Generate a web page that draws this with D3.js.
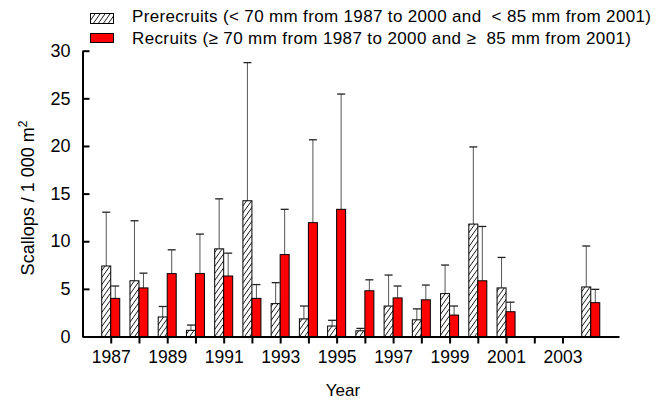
<!DOCTYPE html>
<html>
<head>
<meta charset="utf-8">
<script src="https://cdn.jsdelivr.net/npm/d3@7"></script>
<style>
  body { margin: 0; background: #fff; }
  text { font-family: "Liberation Sans", Arial, sans-serif; fill: #000; }
</style>
</head>
<body>
<script>
// data
var years = [1987, 1988, 1989, 1990, 1991, 1992, 1993, 1994, 1995, 1996, 1997, 1998, 1999, 2000, 2001, 2004];
var prerecruits = [7.4, 5.85, 2.05, 0.65, 9.2, 14.25, 3.45, 1.85, 1.1, 0.6, 3.2, 1.75, 4.5, 11.8, 5.1, 5.2];
var prerecruitsErr = [13.05, 12.15, 3.15, 1.2, 14.45, 28.75, 5.65, 3.2, 1.7, 0.85, 6.45, 2.9, 7.5, 19.9, 8.3, 9.5];
var recruits = [4.0, 5.1, 6.6, 6.6, 6.35, 4.0, 8.6, 11.95, 13.35, 4.8, 4.05, 3.85, 2.25, 5.85, 2.6, 3.55];
var recruitsErr = [5.3, 6.65, 9.1, 10.75, 8.75, 5.45, 13.35, 20.65, 25.45, 5.95, 5.3, 5.4, 3.2, 11.55, 3.6, 4.95];
var tickYears = d3.range(1987, 2004);
var labelYears = [1987, 1989, 1991, 1993, 1995, 1997, 1999, 2001, 2003];
var yTicks = [0, 5, 10, 15, 20, 25, 30];

var width = 656, height = 402;
var barW = 9;

var svg = d3.select("body").append("svg")
    .attr("width", width)
    .attr("height", height);

// hatch pattern for prerecruits
var pat = svg.append("defs").append("pattern")
    .attr("id", "hatch")
    .attr("patternUnits", "userSpaceOnUse")
    .attr("width", 5)
    .attr("height", 7);
pat.append("rect").attr("width", 5).attr("height", 7).attr("fill", "#fff");
pat.append("path")
    .attr("d", "M-1,8.4 L6,-1.4 M-6,8.4 L1,-1.4 M4,8.4 L11,-1.4")
    .attr("stroke", "#000")
    .attr("stroke-width", 0.9);

var x = d3.scaleLinear().domain([1986, 2005]).range([82.5, 619]);
var y = d3.scaleLinear().domain([0, 30]).range([336.5, 50.7]);

var rows = years.map(function(yr, i) {
    return { year: yr, pre: prerecruits[i], preErr: prerecruitsErr[i], rec: recruits[i], recErr: recruitsErr[i] };
});

// error bars (drawn first, bars cover the lower part)
function errBars(key, errKey, offset) {
    var g = svg.append("g");
    g.selectAll("line.stem")
        .data(rows)
        .enter()
        .append("line")
        .attr("x1", function(d) { return x(d.year) + offset; })
        .attr("x2", function(d) { return x(d.year) + offset; })
        .attr("y1", function(d) { return y(d[key]); })
        .attr("y2", function(d) { return y(d[errKey]); })
        .attr("stroke", "#555")
        .attr("stroke-width", 1);
    g.selectAll("line.cap")
        .data(rows)
        .enter()
        .append("line")
        .attr("x1", function(d) { return x(d.year) + offset - 4; })
        .attr("x2", function(d) { return x(d.year) + offset + 4; })
        .attr("y1", function(d) { return y(d[errKey]); })
        .attr("y2", function(d) { return y(d[errKey]); })
        .attr("stroke", "#222")
        .attr("stroke-width", 1.3);
}
errBars("pre", "preErr", -barW / 2);
errBars("rec", "recErr", barW / 2);

// bars
svg.append("g").selectAll("rect")
    .data(rows)
    .enter()
    .append("rect")
    .attr("x", function(d) { return x(d.year) - barW; })
    .attr("y", function(d) { return y(d.pre); })
    .attr("width", barW)
    .attr("height", function(d) { return y(0) - y(d.pre); })
    .attr("fill", "url(#hatch)")
    .attr("stroke", "#000")
    .attr("stroke-width", 1);

svg.append("g").selectAll("rect")
    .data(rows)
    .enter()
    .append("rect")
    .attr("x", function(d) { return x(d.year); })
    .attr("y", function(d) { return y(d.rec); })
    .attr("width", barW)
    .attr("height", function(d) { return y(0) - y(d.rec); })
    .attr("fill", "#ff0000")
    .attr("stroke", "#000")
    .attr("stroke-width", 1);

// x axis
var xAxis = svg.append("g")
    .attr("transform", "translate(0," + y(0) + ")")
    .call(d3.axisBottom(x)
        .tickValues(tickYears)
        .tickSize(7)
        .tickSizeOuter(0)
        .tickPadding(7)
        .tickFormat(function(d) { return labelYears.indexOf(d) >= 0 ? d : ""; }));
xAxis.select(".domain").attr("stroke-width", 2);
xAxis.selectAll(".tick line").attr("stroke-width", 2);
xAxis.selectAll("text").style("font-size", "17.5px");

// y axis, ticks point inward
var yAxis = svg.append("g")
    .attr("transform", "translate(" + x(1986) + ",0)")
    .call(d3.axisRight(y)
        .tickValues(yTicks)
        .tickSize(7)
        .tickSizeOuter(0));
yAxis.select(".domain").attr("stroke-width", 2);
yAxis.selectAll(".tick line").attr("stroke-width", 2);
yAxis.selectAll("text")
    .attr("x", -12)
    .attr("text-anchor", "end")
    .style("font-size", "18px");

// axis titles
svg.append("text")
    .attr("x", 343)
    .attr("y", 396)
    .attr("text-anchor", "middle")
    .style("font-size", "17px")
    .text("Year");

var yt = svg.append("text")
    .attr("transform", "translate(33.5,198) rotate(-90)")
    .attr("text-anchor", "middle")
    .style("font-size", "18px");
yt.append("tspan").text("Scallops / 1 000 m");
yt.append("tspan").attr("dy", -7).style("font-size", "12px").text("2");

// legend
var legend = svg.append("g");
legend.append("rect")
    .attr("x", 90.5).attr("y", 13.5).attr("width", 23).attr("height", 10)
    .attr("fill", "url(#hatch)").attr("stroke", "#000");
legend.append("rect")
    .attr("x", 90.5).attr("y", 33.5).attr("width", 23).attr("height", 9)
    .attr("fill", "#ff0000").attr("stroke", "#000");
legend.append("text")
    .attr("x", 132).attr("y", 21.5)
    .attr("textLength", 519)
    .attr("lengthAdjust", "spacing")
    .style("font-size", "17px")
    .style("white-space", "pre")
    .text("Prerecruits (< 70 mm from 1987 to 2000 and  < 85 mm from 2001)");
legend.append("text")
    .attr("x", 132).attr("y", 44.3)
    .attr("textLength", 499)
    .attr("lengthAdjust", "spacing")
    .style("font-size", "17px")
    .style("white-space", "pre")
    .text("Recruits (\u2265 70 mm from 1987 to 2000 and \u2265  85 mm from 2001)");
</script>
</body>
</html>
